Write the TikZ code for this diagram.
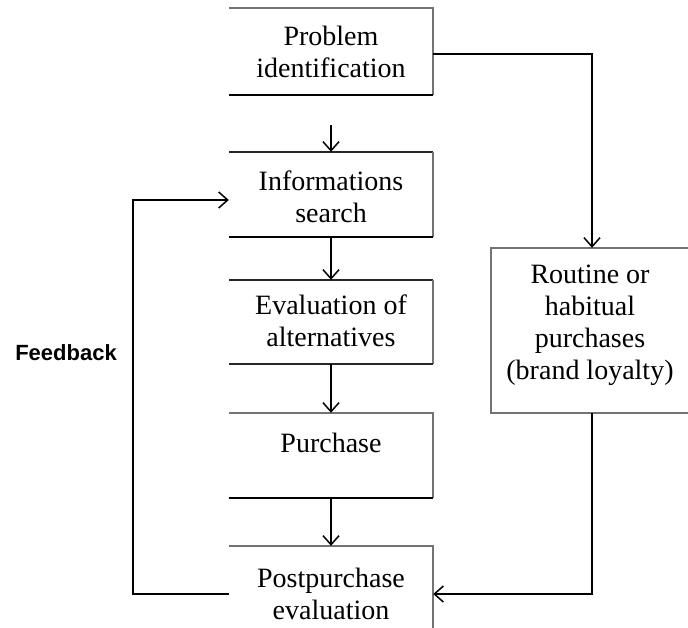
\documentclass[tikz,border=0pt]{standalone}
\usepackage{fontspec}
\setmainfont{Liberation Serif}
\newfontfamily\fbfont{Liberation Sans}
\usetikzlibrary{arrows.meta}
\begin{document}
\begin{tikzpicture}[x=1pt,y=-1pt,
  boxtext/.style={align=center,font=\fontsize{28}{32}\selectfont,inner sep=0pt},
  boxshape/.style={minimum width=204pt,inner sep=0pt,fill=white},
  edgegray/.style={draw=black!55,line width=1.5pt},
  edgedark/.style={draw=black,line width=2.2pt},
  edgethin/.style={draw=black!85,line width=1.5pt},
  conn/.style={line width=2pt,-{Straight Barb[length=9pt,width=16pt,line width=1.5pt]}},
  fbtext/.style={font=\fbfont\bfseries\fontsize{22}{24}\selectfont,inner sep=0pt}
]
\fill[white] (0,0) rectangle (688,627);
\useasboundingbox (0,0) rectangle (688,627);

% boxes
\node[boxshape,minimum height=87pt] (b1) at (331,51.5) {};
\node[boxtext] (t1) at (331,52) {Problem\\identification};
\node[boxshape,minimum height=85pt] (b2) at (331,194.5) {};
\node[boxtext] (t2) at (331,197) {Informations\\search};
\node[boxshape,minimum height=84pt] (b3) at (331,322) {};
\node[boxtext] (t3) at (331,321) {Evaluation of\\alternatives};
\node[boxshape,minimum height=85pt] (b4) at (331,455.5) {};
\node[boxtext] (t4) at (331,443) {Purchase};
\node[boxshape,minimum height=96pt] (b5) at (331,594) {};
\node[boxtext] (t5) at (331,594) {Postpurchase\\evaluation};
\node[minimum width=209pt,minimum height=165pt,inner sep=0pt,fill=white] (rt) at (595.5,330.5) {};
\node[boxtext] (trt) at (590,325) {Routine or\\habitual\\purchases\\(brand loyalty)};
\node[fbtext] (fb) at (66,353) {Feedback};

% box edges (the boxes show no left side; the right box runs off the page)
\draw[edgegray] (b1.north west) -- (b1.north east) -- (b1.south east);
\draw[edgedark] (b1.south west) -- (b1.south east);
\draw[edgethin] (b2.north west) -- (b2.north east);
\draw[edgegray] (b2.north east) -- (b2.south east);
\draw[edgedark] (b2.south west) -- (b2.south east);
\draw[edgethin] (b3.north west) -- (b3.north east);
\draw[edgegray] (b3.north east) -- (b3.south east);
\draw[edgethin] (b3.south west) -- (b3.south east);
\draw[edgegray] (b4.north west) -- (b4.north east) -- (b4.south east);
\draw[edgedark] (b4.south west) -- (b4.south east);
\draw[edgegray] (b5.north west) -- (b5.north east) -- (b5.south east);
\draw[edgegray] (rt.north west) rectangle (rt.south east);

% connectors
\coordinate (s12) at (331,125);
\draw[conn] (s12) -- (b2.north);
\draw[conn] (b2.south) -- (b3.north);
\draw[conn] (b3.south) -- (b4.north);
\draw[conn] (b4.south) -- (b5.north);
\draw[conn] ([yshift=-2pt]b1.east) -| ([xshift=-3.5pt]rt.north);
\draw[conn] ([xshift=-3.5pt]rt.south) |- (b5.east);
\draw[conn] (b5.west) -- ++(-96,0) |- ([yshift=-5.5pt]b2.west);
\end{tikzpicture}
\end{document}
